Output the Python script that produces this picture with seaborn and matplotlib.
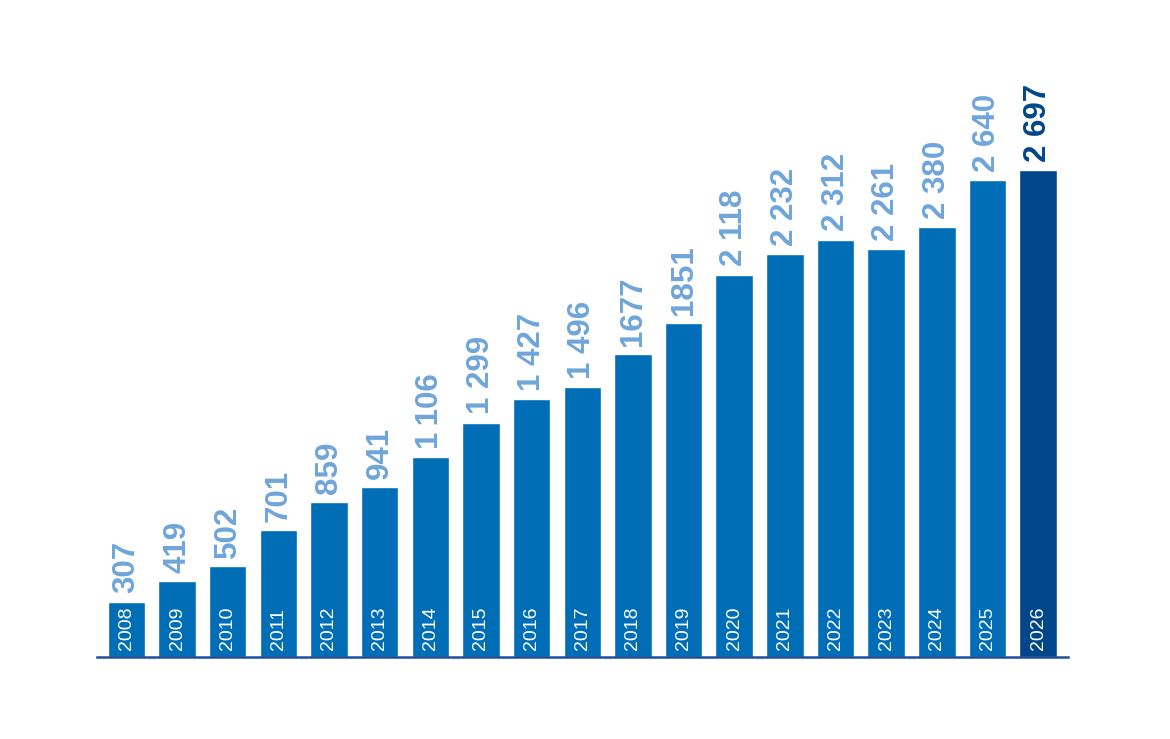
import matplotlib
matplotlib.use("Agg")
import matplotlib.pyplot as plt
import seaborn as sns
import pandas as pd

# data
years = ["2008", "2009", "2010", "2011", "2012", "2013", "2014", "2015", "2016", "2017",
         "2018", "2019", "2020", "2021", "2022", "2023", "2024", "2025", "2026"]
values = [307, 419, 502, 701, 859, 941, 1106, 1299, 1427, 1496,
          1677, 1851, 2118, 2232, 2312, 2261, 2380, 2640, 2697]
value_labels = ["307", "419", "502", "701", "859", "941", "1\u2009106", "1 299", "1 427", "1 496",
                "1677", "1851", "2 118", "2 232", "2 312", "2 261", "2 380", "2 640", "2 697"]

bar_blue = "#006EB6"
dark_blue = "#00468A"
label_blue = "#6FA5DA"

sns.set_style("white")
plt.rcParams["font.family"] = ["Liberation Sans", "DejaVu Sans"]

df = pd.DataFrame({"year": years, "value": values})
colors = [bar_blue] * (len(years) - 1) + [dark_blue]

fig = plt.figure(figsize=(11.7, 7.39), dpi=100)
ax = fig.add_axes([97 / 1170, 82 / 739, 971 / 1170, 657 / 739])

sns.barplot(data=df, x="year", y="value", hue="year", palette=colors,
            legend=False, width=0.74, saturation=1, ax=ax)

for i, (v, lab) in enumerate(zip(values, value_labels)):
    last = i == len(values) - 1
    ax.annotate(lab, xy=(i, v), xytext=(0, 6), textcoords="offset points",
                rotation=90, ha="center", va="bottom", fontsize=22.5,
                fontweight="bold", color=dark_blue if last else label_blue)
    ax.annotate(years[i], xy=(i, 0), xytext=(0, 5), textcoords="offset points",
                rotation=90, ha="center", va="bottom", fontsize=14, color="white")

ax.set_xlim(-0.58, 18.59)
ax.set_ylim(0, 3640)
for s in ["top", "right", "left"]:
    ax.spines[s].set_visible(False)
ax.spines["bottom"].set_color("#1F4E9A")
ax.spines["bottom"].set_linewidth(1.8)
ax.set_xticks([])
ax.set_yticks([])
ax.set_xlabel("")
ax.set_ylabel("")

fig.savefig("out.png", dpi=100, facecolor="white")
